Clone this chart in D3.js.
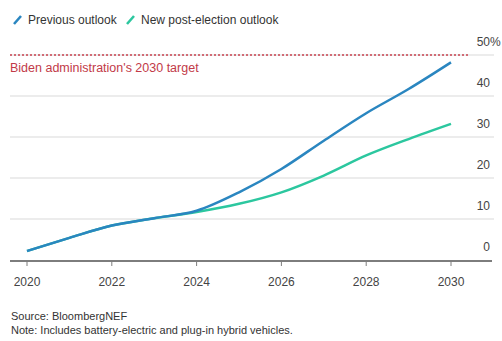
<!DOCTYPE html>
<html>
<head>
<meta charset="utf-8">
<script src="https://cdn.jsdelivr.net/npm/d3@7"></script>
<style>
  body { margin: 0; background: #fff; }
  svg { font-family: "Liberation Sans", Arial, sans-serif; }
</style>
</head>
<body>
<div id="chart"></div>
<script>
// Data (share of sales, %)
const years = [2020, 2021, 2022, 2023, 2024, 2025, 2026, 2027, 2028, 2029, 2030];
const previousOutlook = [2.2, 5.4, 8.4, 10.2, 12.0, 16.5, 22.2, 29.1, 35.8, 41.7, 48.2];
const newOutlook = [2.2, 5.4, 8.4, 10.2, 11.7, 13.7, 16.5, 20.6, 25.5, 29.5, 33.2];
const yTicks = [0, 10, 20, 30, 40, 50];
const xTicks = [2020, 2022, 2024, 2026, 2028, 2030];
const targetValue = 50;

const seriesNames = ['Previous outlook', 'New post-election outlook'];
const seriesColors = ['#2a86c0', '#2cc79f'];

const width = 502;
const height = 341;

const svg = d3.select('#chart').append('svg')
    .attr('width', width)
    .attr('height', height);

const x = d3.scaleLinear().domain([2020, 2030]).range([27, 451]);
const y = d3.scaleLinear().domain([0, 50]).range([260, 55]);

// gridlines
svg.append('g')
    .selectAll('line')
    .data(yTicks.filter(d => d > 0))
    .join('line')
    .attr('x1', 10)
    .attr('x2', 494)
    .attr('y1', d => y(d))
    .attr('y2', d => y(d))
    .attr('stroke', '#e6e6e6')
    .attr('stroke-width', 1.5);

// y labels (numbers right aligned, % hangs)
svg.append('g')
    .selectAll('text')
    .data(yTicks)
    .join('text')
    .attr('x', 490)
    .attr('y', d => y(d) - 9)
    .attr('text-anchor', 'end')
    .attr('font-size', '12px')
    .attr('fill', '#444')
    .text(d => d);
svg.append('text')
    .attr('x', 490)
    .attr('y', y(50) - 9)
    .attr('font-size', '12px')
    .attr('fill', '#444')
    .text('%');

// target line
svg.append('line')
    .attr('x1', 10)
    .attr('x2', 468)
    .attr('y1', y(targetValue))
    .attr('y2', y(targetValue))
    .attr('stroke', '#c8414f')
    .attr('stroke-width', 1.5)
    .attr('stroke-dasharray', '2,2');

svg.append('text')
    .attr('x', 10)
    .attr('y', y(targetValue) + 17)
    .attr('font-size', '12.5px')
    .attr('fill', '#c23a48')
    .text("Biden administration's 2030 target");

// x axis
const xAxis = svg.append('g')
    .attr('transform', `translate(0, ${y(0) + 1})`);
xAxis.append('line')
    .attr('x1', 10)
    .attr('x2', 492)
    .attr('stroke', '#7d7d7d')
    .attr('stroke-width', 2);
xAxis.selectAll('.tick')
    .data(xTicks)
    .join('line')
    .attr('x1', d => x(d))
    .attr('x2', d => x(d))
    .attr('y1', 0)
    .attr('y2', 5)
    .attr('stroke', '#7d7d7d')
    .attr('stroke-width', 1);
xAxis.selectAll('text')
    .data(xTicks)
    .join('text')
    .attr('x', d => x(d))
    .attr('y', 25)
    .attr('text-anchor', 'middle')
    .attr('font-size', '12px')
    .attr('fill', '#444')
    .text(d => d);

// lines
const line = d3.line()
    .x((d, i) => x(years[i]))
    .y(d => y(d))
    .curve(d3.curveMonotoneX);

[newOutlook, previousOutlook].forEach((vals, k) => {
    svg.append('path')
        .datum(vals)
        .attr('fill', 'none')
        .attr('stroke', k === 0 ? seriesColors[1] : seriesColors[0])
        .attr('stroke-width', 2.5)
        .attr('d', line);
});

// legend
const legendX = [13, 126];
seriesNames.forEach((name, i) => {
    const g = svg.append('g').attr('transform', `translate(${legendX[i]}, 20)`);
    g.append('line')
        .attr('x1', 1)
        .attr('x2', 8)
        .attr('y1', 4)
        .attr('y2', -4)
        .attr('stroke', seriesColors[i])
        .attr('stroke-width', 2.5);
    g.append('text')
        .attr('x', 15)
        .attr('y', 4)
        .attr('font-size', '12px')
        .attr('fill', '#333')
        .text(name);
});

// footnotes
svg.append('text')
    .attr('x', 11)
    .attr('y', 320)
    .attr('font-size', '11px')
    .attr('fill', '#333')
    .text('Source: BloombergNEF');
svg.append('text')
    .attr('x', 11)
    .attr('y', 334)
    .attr('font-size', '11px')
    .attr('fill', '#333')
    .text('Note: Includes battery-electric and plug-in hybrid vehicles.');
</script>
</body>
</html>
